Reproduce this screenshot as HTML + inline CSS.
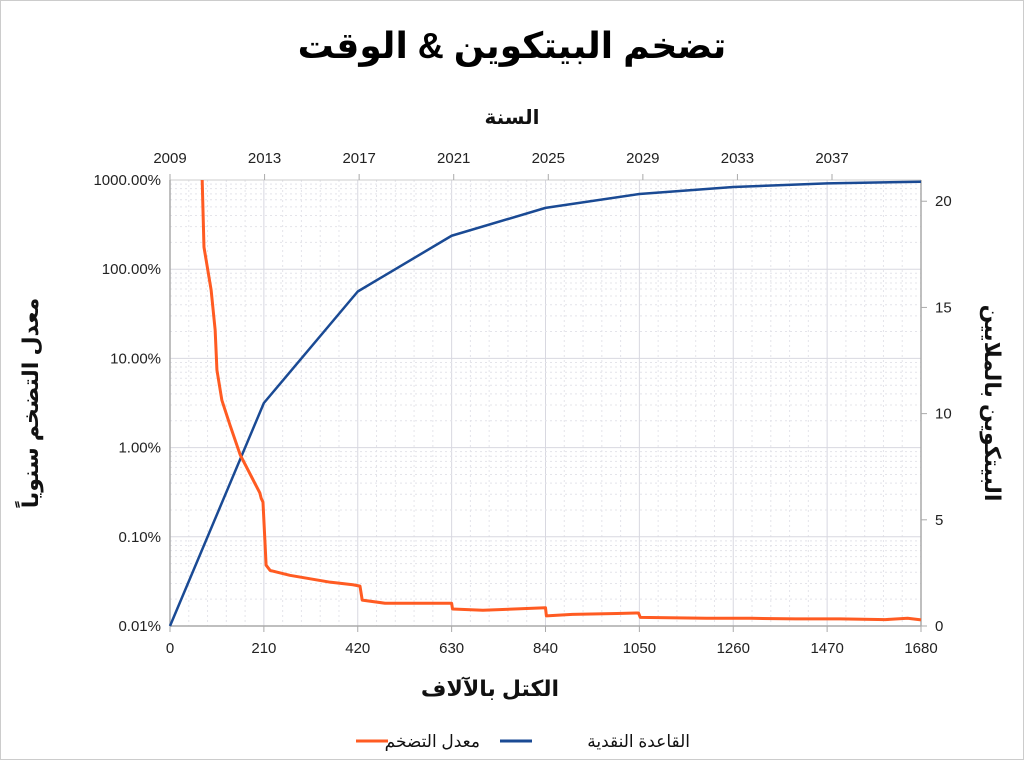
<!DOCTYPE html>
<html><head><meta charset="utf-8"><style>
body{margin:0;background:#fff;}
svg text{font-family:"Liberation Sans","DejaVu Sans",sans-serif;}
</style></head><body>
<svg width="1024" height="760" viewBox="0 0 1024 760" xmlns="http://www.w3.org/2000/svg">
<rect x="0.5" y="0.5" width="1023" height="759" fill="#fff" stroke="#ccc"/>
<text x="512" y="58" text-anchor="middle" font-size="36" font-weight="bold" fill="#000">تضخم البيتكوين &amp; الوقت</text>
<text x="512" y="124" text-anchor="middle" font-size="20" font-weight="bold" fill="#111">السنة</text>
<text x="490" y="696" text-anchor="middle" font-size="22" font-weight="bold" fill="#111">الكتل بالآلاف</text>
<text transform="translate(38,403) rotate(-90)" text-anchor="middle" font-size="22" font-weight="bold" fill="#111">معدل التضخم سنوياً</text>
<text transform="translate(985,403) rotate(90)" text-anchor="middle" font-size="22" font-weight="bold" fill="#111">البيتكوين بالملايين</text>
<g id="grid"></g>
<g id="axes"></g>
<g id="series"></g>
<g>
<line x1="356" y1="741" x2="388" y2="741" stroke="#ff5b22" stroke-width="3"/>
<text x="480" y="747" text-anchor="end" font-size="17" fill="#111">معدل التضخم</text>
<line x1="500" y1="741" x2="532" y2="741" stroke="#1a4a94" stroke-width="3"/>
<text x="690" y="747" text-anchor="end" font-size="17" fill="#111">القاعدة النقدية</text>
</g>
</svg>
<script>
const blockTicks=[0,210,420,630,840,1050,1260,1470,1680];
const yearTicks=[2009,2013,2017,2021,2025,2029,2033,2037];
const pctTicks=[1000,100,10,1,0.1,0.01];
const pctLabels=["1000.00%","100.00%","10.00%","1.00%","0.10%","0.01%"];
const btcTicks=[0,5,10,15,20];
const baseBlocks=[0,210,420,630,840,1050,1260,1470,1680];
const baseBTC=[0,10.5,15.75,18.375,19.6875,20.34,20.67,20.84,20.92];
const inflBlocks=[72,76,92,101,105,116,134,157,201,204,208,215,224,268,358,409,425,430,481,630,632,700,840,842,900,1000,1048,1052,1200,1300,1400,1500,1600,1650,1680];
const inflPct=[1000,177,58.5,20.8,7.4,3.4,1.8,0.83,0.31,0.27,0.245,0.048,0.042,0.037,0.031,0.029,0.028,0.0195,0.018,0.018,0.0155,0.015,0.016,0.013,0.0135,0.0138,0.014,0.0125,0.0122,0.0122,0.012,0.012,0.0118,0.0122,0.0117];
const L=170,R=921,T=180,B=626;
const xs=v=>L+(v-0)/(1680-0)*(R-L);
const ys=p=>T+(3-Math.log10(p))/5*(B-T);
const yr=v=>B-(v/21)*(B-T);
const yrx=y=>L+(y-2009)*((832-L)/28);
const NS="http://www.w3.org/2000/svg";
function mk(tag,parent,attrs){const e=document.createElementNS(NS,tag);for(const k in attrs)e.setAttribute(k,attrs[k]);parent.appendChild(e);return e;}
const grid=document.getElementById('grid'),axes=document.getElementById('axes'),series=document.getElementById('series');
for(let v=0;v<=1680;v+=42){const g=mk('line',grid,{x1:xs(v),x2:xs(v),y1:T,y2:B,stroke:v%210===0?'#d8d8e0':'#e4e4ea','stroke-width':1,'stroke-dasharray':v%210===0?'':'2,3'});

}
for(let d=-2;d<3;d++){for(let m=1;m<10;m++){const p=m*Math.pow(10,d);const g=mk('line',grid,{x1:L,x2:R,y1:ys(p),y2:ys(p),stroke:m===1?'#d8d8e0':'#e4e4ea','stroke-width':1,'stroke-dasharray':m===1?'':'2,3'});

}}
const tl=mk('line',grid,{x1:L,x2:R,y1:T,y2:T,stroke:'#ccc'});


const xa=mk('line',axes,{x1:L,x2:R,y1:B,y2:B,stroke:'#aaa','stroke-width':1.5});


const la=mk('line',axes,{x1:L,x2:L,y1:T,y2:B,stroke:'#aaa','stroke-width':1.5});


const ra=mk('line',axes,{x1:R,x2:R,y1:T,y2:B,stroke:'#aaa','stroke-width':1.5});


blockTicks.forEach(v=>{mk('line',axes,{x1:xs(v),x2:xs(v),y1:B,y2:B+6,stroke:'#aaa'});const t=mk('text',axes,{x:xs(v),y:B+27,'text-anchor':'middle','font-size':15,fill:'#222'});t.textContent=v;

});
yearTicks.forEach(y=>{mk('line',axes,{x1:yrx(y),x2:yrx(y),y1:T-6,y2:T,stroke:'#aaa'});const t=mk('text',axes,{x:yrx(y),y:T-17,'text-anchor':'middle','font-size':15,fill:'#222'});t.textContent=y;

});
pctTicks.forEach((p,i)=>{const t=mk('text',axes,{x:L-9,y:ys(p)+5,'text-anchor':'end','font-size':15,fill:'#222'});t.textContent=pctLabels[i];

});
btcTicks.forEach(v=>{mk('line',axes,{x1:R,x2:R+6,y1:yr(v),y2:yr(v),stroke:'#aaa'});const t=mk('text',axes,{x:R+14,y:yr(v)+5,'text-anchor':'start','font-size':15,fill:'#222'});t.textContent=v;

});
const bl=mk('polyline',series,{points:baseBlocks.map((b,i)=>xs(b)+','+yr(baseBTC[i])).join(' '),fill:'none',stroke:'#1a4a94','stroke-width':2.5,'stroke-linejoin':'round'});


const il=mk('polyline',series,{points:inflBlocks.map((b,i)=>xs(b)+','+ys(inflPct[i])).join(' '),fill:'none',stroke:'#ff5b22','stroke-width':3,'stroke-linejoin':'round'});


</script>
</body></html>
